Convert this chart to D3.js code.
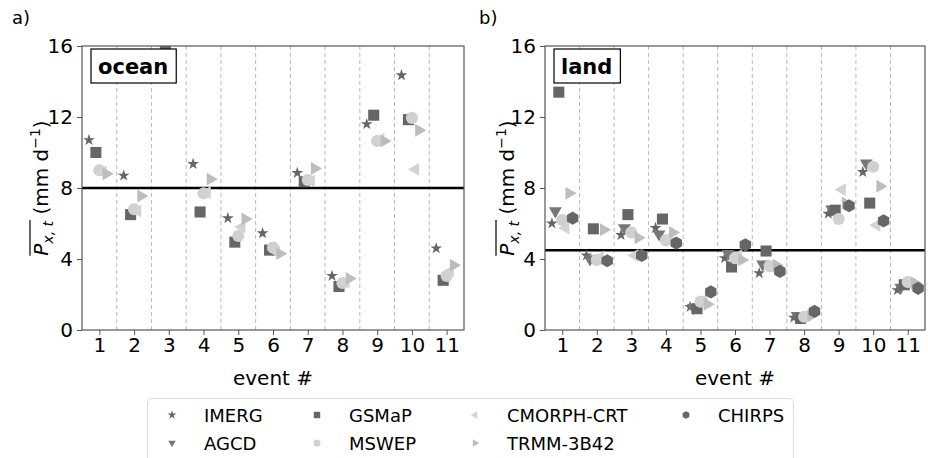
<!DOCTYPE html>
<html><head><meta charset="utf-8">
<script src="https://cdn.jsdelivr.net/npm/d3@7"></script>
<style>body{margin:0;background:#fff}svg{font-family:"DejaVu Sans",sans-serif}</style>
</head><body><svg id="c" width="928" height="458"></svg>
<script>
const events = [1,2,3,4,5,6,7,8,9,10,11];
const yTicks = [0,4,8,12,16];
// ocean panel (null = not visible)
const oceanIMERG  = [10.7, 8.7, null, 9.35, 6.3, 5.45, 8.85, 3.05, 11.6, 14.35, 4.6];
const oceanGSMaP  = [10.0, 6.5, 16.0, 6.65, 4.95, 4.5, 8.35, 2.45, 12.1, 11.85, 2.8];
const oceanMSWEP  = [9.0, 6.8, null, 7.7, 5.3, 4.65, 8.45, 2.65, 10.65, 11.95, 3.05];
const oceanCMORPH = [8.9, 6.7, 14.2, 7.75, 5.8, 4.4, 8.4, 2.7, 10.75, 9.05, 3.3];
const oceanTRMM   = [8.8, 7.55, null, 8.5, 6.25, 4.3, 9.1, 2.9, 10.65, 11.25, 3.65];
const oceanMean = 8.0;
// land panel
const landIMERG  = [6.0, 4.2, 5.35, 5.75, 1.3, 4.05, 3.2, 0.7, 6.55, 8.9, 2.25];
const landAGCD   = [6.7, 4.0, 5.75, 5.4, 1.25, 4.3, 3.7, 0.8, 6.8, 9.4, 2.4];
const landGSMaP  = [13.4, 5.7, 6.5, 6.25, 1.2, 3.55, 4.45, 0.65, 6.75, 7.15, 2.55];
const landMSWEP  = [6.2, 3.95, 5.5, 5.05, 1.6, 4.05, 3.6, 0.75, 6.25, 9.2, 2.7];
const landCMORPH = [5.75, 4.1, 4.2, 5.2, 1.7, 4.2, 3.5, 0.85, 7.9, 5.9, 2.6];
const landTRMM   = [7.7, 5.65, 5.2, 5.5, 1.45, 3.95, 3.65, 0.8, 7.15, 8.1, 2.65];
const landCHIRPS = [6.3, 3.9, 4.2, 4.9, 2.15, 4.8, 3.3, 1.05, 7.0, 6.15, 2.35];
const landMean = 4.5;

const products = [
  {name:"IMERG", sym:"star", color:"#666666", off:-0.3},
  {name:"AGCD", sym:"tdown", color:"#777777", off:-0.2},
  {name:"GSMaP", sym:"square", color:"#666666", off:-0.1},
  {name:"MSWEP", sym:"circle", color:"#d0d0d0", off:0},
  {name:"CMORPH-CRT", sym:"tleft", color:"#d3d3d3", off:0.1},
  {name:"TRMM-3B42", sym:"tright", color:"#bdbdbd", off:0.2},
  {name:"CHIRPS", sym:"hex", color:"#666666", off:0.3}
];
const oceanData = {"IMERG":oceanIMERG,"GSMaP":oceanGSMaP,"MSWEP":oceanMSWEP,"CMORPH-CRT":oceanCMORPH,"TRMM-3B42":oceanTRMM};
const landData = {"IMERG":landIMERG,"AGCD":landAGCD,"GSMaP":landGSMaP,"MSWEP":landMSWEP,"CMORPH-CRT":landCMORPH,"TRMM-3B42":landTRMM,"CHIRPS":landCHIRPS};

function symPath(sym, s){
  if(sym==="star") return d3.symbol(d3.symbolStar, s*s*0.3)();
  if(sym==="square") return d3.symbol(d3.symbolSquare, s*s*0.85)();
  if(sym==="circle") return d3.symbol(d3.symbolCircle, s*s*0.8)();
  const r = s*0.62;
  const poly = (angles,rad)=> "M"+angles.map(a=>[rad*Math.cos(a), rad*Math.sin(a)].map(v=>v.toFixed(2)).join(",")).join("L")+"Z";
  const d2r = Math.PI/180;
  if(sym==="tdown") return poly([90,210,330].map(a=>a*d2r), r);
  if(sym==="tleft") return poly([180,300,60].map(a=>a*d2r), r);
  if(sym==="tright") return poly([0,120,240].map(a=>a*d2r), r);
  if(sym==="hex") return poly([30,90,150,210,270,330].map(a=>a*d2r), s*0.55);
}

const svg = d3.select("#c");
const yTop = 46, yBot = 330;
const y = d3.scaleLinear().domain([0,16]).range([yBot, yTop]);

function panel(left, right, data, mean, label, letter, ylabX){
  const x = d3.scaleLinear().domain([0.5, 11.5]).range([left, right]);
  const g = svg.append("g");
  const cid = "clip"+label;
  svg.append("clipPath").attr("id",cid).append("rect").attr("x",left).attr("y",yTop).attr("width",right-left).attr("height",yBot-yTop);
  g.selectAll("line.sep").data(events.slice(0,-1)).join("line")
    .attr("x1",d=>x(d+0.5)).attr("x2",d=>x(d+0.5)).attr("y1",yTop).attr("y2",yBot)
    .attr("stroke","#b8b8b8").attr("stroke-width",1).attr("stroke-dasharray","4,3");
  g.append("line").attr("x1",left).attr("x2",right).attr("y1",y(mean)).attr("y2",y(mean))
    .attr("stroke","#000").attr("stroke-width",2.5);
  const pg = g.append("g").attr("clip-path",`url(#${cid})`);
  products.forEach(p=>{
    const vals = data[p.name]; if(!vals) return;
    const pts = events.map((e,i)=>({e, v: vals[i]})).filter(d=>d.v!==null);
    pg.selectAll(null).data(pts).join("path")
      .attr("d", symPath(p.sym, 12))
      .attr("transform", d=>`translate(${x(d.e+p.off)},${y(d.v)})`)
      .attr("fill", p.color);
  });
  const ax = g.append("g").attr("transform",`translate(0,${yBot})`)
    .call(d3.axisBottom(x).tickValues(events).tickFormat(d3.format("d")).tickSize(5).tickPadding(3));
  const ay = g.append("g").attr("transform",`translate(${left},0)`)
    .call(d3.axisLeft(y).tickValues(yTicks).tickSize(5).tickPadding(4));
  [ax,ay].forEach(a=>{a.select(".domain").remove(); a.selectAll("text").attr("font-size",20).attr("fill","#000").attr("font-family","DejaVu Sans"); a.selectAll("line").attr("stroke","#555");});
  g.append("rect").attr("x",left).attr("y",yTop).attr("width",right-left).attr("height",yBot-yTop)
    .attr("fill","none").attr("stroke","#555").attr("stroke-width",1.2);
  const lb = g.append("g");
  const t = lb.append("text").attr("x",left+16).attr("y",yTop+28).attr("font-size",21).attr("font-weight","bold").text(label);
  const bb = t.node().getBBox();
  lb.insert("rect","text").attr("x",left+9).attr("y",yTop+3).attr("width",bb.width+15).attr("height",34)
    .attr("fill","#fff").attr("stroke","#000").attr("stroke-width",1.2);
  svg.append("text").attr("x",(left+right)/2).attr("y",385).attr("text-anchor","middle").attr("font-size",20).text("event #");
  svg.append("text").attr("x",letter[0]).attr("y",letter[1]).attr("font-size",18).text(letter[2]);
  const yl = svg.append("g").attr("transform",`translate(${ylabX},${(yTop+yBot)/2}) rotate(-90)`);
  const tx = yl.append("text").attr("font-size",20);
  tx.append("tspan").attr("font-style","italic").text("P");
  tx.append("tspan").attr("font-style","italic").attr("font-size",14).attr("dy",5).text("x, t");
  tx.append("tspan").attr("dy",-5).text(" (mm d");
  tx.append("tspan").attr("font-size",14).attr("dy",-8).text("\u22121");
  tx.append("tspan").attr("dy",8).text(")");
  const w = tx.node().getComputedTextLength();
  tx.attr("x",-w/2);
  const wp = tx.node().getSubStringLength(0,5);
  yl.append("line").attr("x1",-w/2).attr("x2",-w/2+wp+1).attr("y1",-18).attr("y2",-18).attr("stroke","#000").attr("stroke-width",1.2);
}

panel(82, 464, oceanData, oceanMean, "ocean", [12,24,"a)"], 48);
panel(545, 925, landData, landMean, "land", [479,24,"b)"], 514);

const leg = svg.append("g");
leg.append("rect").attr("x",147.5).attr("y",398.5).attr("width",646).attr("height",66).attr("rx",4)
  .attr("fill","#fff").attr("stroke","#ddd");
const legOrder = [["IMERG",0,0],["AGCD",0,1],["GSMaP",1,0],["MSWEP",1,1],["CMORPH-CRT",2,0],["TRMM-3B42",2,1],["CHIRPS",3,0]];
const colX = [172, 317, 475, 686];
const rowY = [415, 443];
legOrder.forEach(([n,c,r])=>{
  const p = products.find(q=>q.name===n);
  leg.append("path").attr("d",symPath(p.sym, p.sym==="star"?9:7)).attr("fill",p.color)
    .attr("transform",`translate(${colX[c]},${rowY[r]})`);
  leg.append("text").attr("x",colX[c]+32).attr("y",rowY[r]+7).attr("font-size",18).text(n);
});
</script></body></html>
